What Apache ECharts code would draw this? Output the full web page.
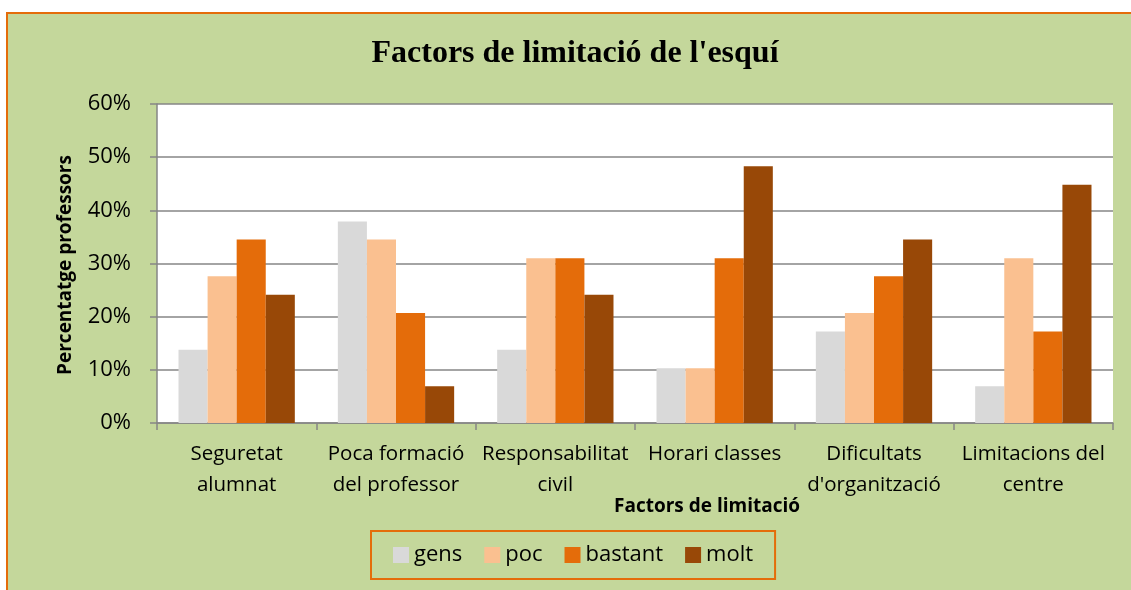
<!DOCTYPE html>
<html>
<head>
<meta charset="utf-8">
<script src="https://cdn.jsdelivr.net/npm/echarts@6/dist/echarts.min.js"></script>
<style>
html,body{margin:0;padding:0;background:#fff;overflow:hidden;}
#chart{width:1131px;height:590px;}
</style>
</head>
<body>
<div id="chart"></div>
<script>
const categories = ["Seguretat\nalumnat", "Poca formació\ndel professor", "Responsabilitat\ncivil", "Horari classes", "Dificultats\nd'organització", "Limitacions del\ncentre"];
const gens    = [13.8, 37.9, 13.8, 10.3, 17.2, 6.9];
const poc     = [27.6, 34.5, 31.0, 10.3, 20.7, 31.0];
const bastant = [34.5, 20.7, 31.0, 31.0, 27.6, 17.2];
const molt    = [24.1, 6.9, 24.1, 48.3, 34.5, 44.8];
const yTicks = [0, 10, 20, 30, 40, 50, 60];

const FONT = "'Open Sans', sans-serif";
const chart = echarts.init(document.getElementById('chart'), null, {renderer: 'canvas'});
const mk = (name, data, color) => ({
  name, type: 'bar', data, barGap: '0%', barCategoryGap: '27%',
  itemStyle: {color}, emphasis: {disabled: true}
});
chart.setOption({
  animation: false,
  backgroundColor: '#ffffff',
  graphic: [
    {type: 'rect', z: -10, shape: {x: 7, y: 13, width: 1200, height: 700},
     style: {fill: '#c4d79b', stroke: '#e46c0a', lineWidth: 2}},
    {type: 'text', x: 66, y: 265, rotation: Math.PI / 2,
     style: {text: 'Percentatge professors', font: "bold 19px 'Open Sans', sans-serif", fill: '#000', align: 'center', verticalAlign: 'middle'}},
    {type: 'text', x: 707, y: 507,
     style: {text: 'Factors de limitació', font: "bold 19px 'Open Sans', sans-serif", fill: '#000', align: 'center', verticalAlign: 'middle'}}
  ],
  title: {
    text: "Factors de limitació de l'esquí",
    left: 570, top: 33, textAlign: 'center',
    textStyle: {fontFamily: "'Liberation Serif', serif", fontWeight: 'bold', fontSize: 32, color: '#000'}
  },
  legend: {
    data: ['gens', 'poc', 'bastant', 'molt'],
    left: 371, top: 531,
    padding: [13, 22, 13, 22],
    itemGap: 22, itemWidth: 16, itemHeight: 16,
    borderColor: '#e46c0a', borderWidth: 2,
    icon: 'rect',
    textStyle: {fontFamily: FONT, fontSize: 22, color: '#000'}
  },
  grid: {left: 157, right: 18, top: 104, bottom: 167, show: true, backgroundColor: '#ffffff', borderWidth: 0, containLabel: false},
  xAxis: {
    type: 'category', data: categories,
    axisLine: {lineStyle: {color: '#868686', width: 1.5}},
    axisTick: {show: true, length: 7, lineStyle: {color: '#868686', width: 1.5}},
    axisLabel: {fontFamily: FONT, fontSize: 20.5, color: '#000', lineHeight: 31, margin: 16, interval: 0}
  },
  yAxis: {
    type: 'value', min: 0, max: 60, interval: 10,
    axisLine: {show: true, lineStyle: {color: '#868686', width: 1.5}},
    axisTick: {show: true, length: 7, lineStyle: {color: '#868686', width: 1.5}},
    splitLine: {lineStyle: {color: '#868686', width: 1.5}},
    axisLabel: {fontFamily: FONT, fontSize: 22, color: '#000', margin: 26,
      formatter: v => yTicks.includes(v) ? v + '%' : ''}
  },
  series: [
    mk('gens', gens, '#d9d9d9'),
    mk('poc', poc, '#fac090'),
    mk('bastant', bastant, '#e46c0a'),
    mk('molt', molt, '#984807')
  ]
});
</script>
</body>
</html>
